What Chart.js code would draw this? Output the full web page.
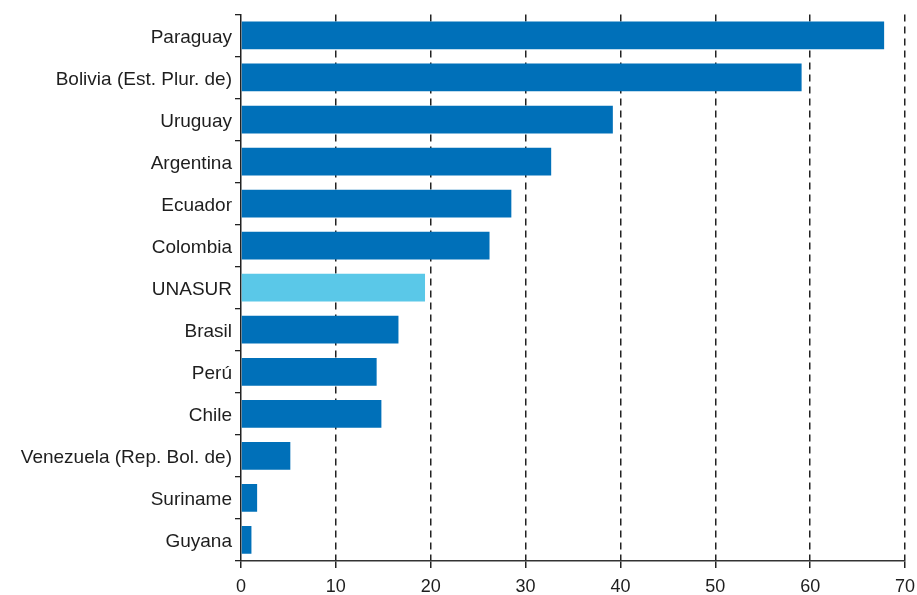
<!DOCTYPE html>
<html>
<head>
<meta charset="utf-8">
<script src="https://cdn.jsdelivr.net/npm/chart.js@4"></script>
<style>
  html, body { margin: 0; padding: 0; background: #fff; }
  #wrap { width: 917px; height: 595px; }
</style>
</head>
<body>
<div id="wrap"><canvas id="chart" width="917" height="595"></canvas></div>
<script>
// Values
const countries = ['Paraguay', 'Bolivia (Est. Plur. de)', 'Uruguay', 'Argentina', 'Ecuador', 'Colombia',
    'UNASUR', 'Brasil', 'Perú', 'Chile', 'Venezuela (Rep. Bol. de)', 'Suriname', 'Guyana'];
const values = [67.8, 59.1, 39.2, 32.7, 28.5, 26.2, 19.4, 16.6, 14.3, 14.8, 5.2, 1.7, 1.1];
const xTicks = [0, 10, 20, 30, 40, 50, 60, 70];

const darkBlue = '#0070b9';
const lightBlue = '#5ac8e8';
const textColor = '#1e1e1e';
const fontFamily = 'Liberation Sans, Arial, sans-serif';

const ctx = document.getElementById('chart').getContext('2d');
const chart = new Chart(ctx, {
    type: 'bar',
    data: {
        labels: countries,
        datasets: [{
            data: values,
            backgroundColor: countries.map(c => c === 'UNASUR' ? lightBlue : darkBlue),
            borderWidth: 0,
            categoryPercentage: 1,
            barPercentage: 0.66
        }]
    },
    options: {
        indexAxis: 'y',
        responsive: false,
        animation: false,
        layout: { padding: { top: 13, right: 0, left: 0, bottom: 0 } },
        plugins: {
            legend: { display: false },
            tooltip: { enabled: false }
        },
        scales: {
            x: {
                min: 0,
                max: 70,
                afterBuildTicks: axis => { axis.ticks = xTicks.map(v => ({ value: v })); },
                afterFit: axis => { axis.height = 34; axis.paddingRight = 12; },
                // dashed vertical grid lines, solid axis line
                border: { display: true, color: '#333', width: 1.5, dash: [7, 5] },
                grid: {
                    color: ctx => ctx.tick && ctx.tick.value === 0 ? 'rgba(0,0,0,0)' : '#222',
                    lineWidth: 1.5,
                    tickBorderDash: [],
                    tickLength: 7,
                    tickColor: '#222',
                    drawOnChartArea: true
                },
                ticks: {
                    color: textColor,
                    padding: 8,
                    maxRotation: 0,
                    font: { family: fontFamily, size: 18 }
                }
            },
            y: {
                afterFit: axis => { axis.width = 241; },
                border: { display: true, color: '#222', width: 1.5 },
                grid: {
                    drawOnChartArea: false,
                    tickLength: 6,
                    color: '#222',
                    lineWidth: 1.3
                },
                ticks: {
                    color: textColor,
                    padding: 3,
                    labelOffset: 2,
                    autoSkip: false,
                    font: { family: fontFamily, size: 19 }
                }
            }
        }
    }
});
</script>
</body>
</html>
